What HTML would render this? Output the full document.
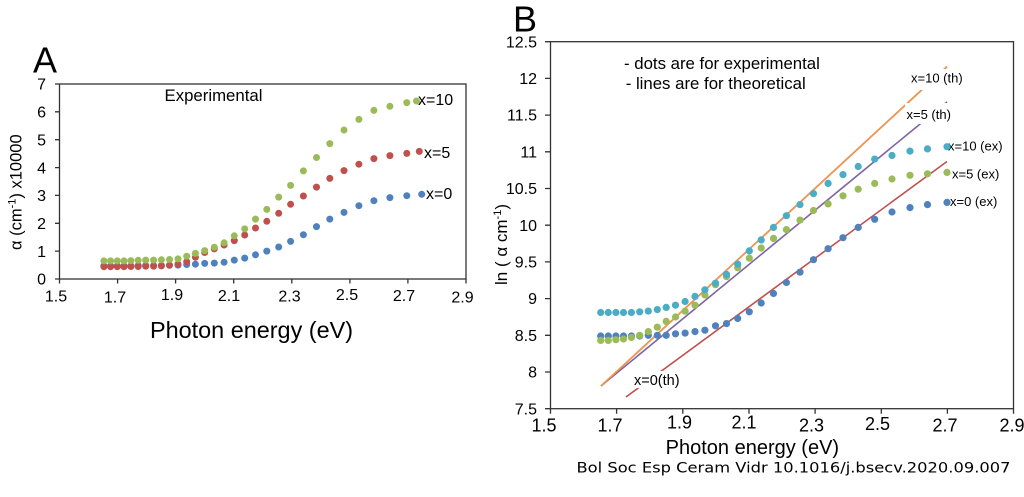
<!DOCTYPE html>
<html><head><meta charset="utf-8"><style>
html,body{margin:0;padding:0;background:#fff;}
svg{display:block;}
text{font-family:"Liberation Sans",Arial,sans-serif;fill:#000;}
</style></head><body>
<svg width="1024" height="497" viewBox="0 0 1024 497" xmlns="http://www.w3.org/2000/svg">
<rect width="1024" height="497" fill="#fff"/>

<!-- ============ PANEL A ============ -->
<text x="33" y="72.7" font-size="36">A</text>
<g stroke="#333" stroke-width="1.3" fill="none">
<rect x="59.5" y="84" width="406.5" height="195"/>
<path d="M59.5 279v4.5M117.6 279v4.5M175.6 279v4.5M233.7 279v4.5M291.8 279v4.5M349.9 279v4.5M407.9 279v4.5M466 279v4.5"/>
<path d="M55 279h4.5M55 251.1h4.5M55 223.3h4.5M55 195.4h4.5M55 167.6h4.5M55 139.7h4.5M55 111.8h4.5M55 84h4.5"/>
</g>
<g font-size="16" text-anchor="end">
<text x="46" y="284.7">0</text><text x="46" y="256.8">1</text><text x="46" y="229">2</text><text x="46" y="201.1">3</text>
<text x="46" y="173.3">4</text><text x="46" y="145.4">5</text><text x="46" y="117.5">6</text><text x="46" y="89.7">7</text>
</g>
<g font-size="16" text-anchor="middle">
<text x="56" y="301.5">1.5</text><text x="115" y="302.5">1.7</text><text x="172" y="300">1.9</text><text x="229" y="301">2.1</text>
<text x="289.5" y="301.5">2.3</text><text x="347" y="300">2.5</text><text x="404" y="301">2.7</text><text x="462.5" y="302.5">2.9</text>
</g>
<text x="150" y="338" font-size="23.4" textLength="203" lengthAdjust="spacingAndGlyphs">Photon energy (eV)</text>
<text transform="translate(21.5,250) rotate(-90)" font-size="16.5">α (cm<tspan font-size="11" dy="-6">-1</tspan><tspan dy="6">)  x10000</tspan></text>
<text x="164.5" y="101" font-size="16.8">Experimental</text>

<g fill="#4f81bd">
<circle cx="103.9" cy="265.9" r="3.5"/><circle cx="110.6" cy="265.9" r="3.5"/><circle cx="117.3" cy="265.9" r="3.5"/><circle cx="124" cy="265.9" r="3.5"/><circle cx="130.9" cy="265.9" r="3.5"/><circle cx="138.2" cy="265.6" r="3.5"/><circle cx="145.7" cy="265.6" r="3.5"/><circle cx="153.6" cy="265.6" r="3.5"/><circle cx="161.4" cy="265.6" r="3.5"/><circle cx="169.5" cy="265.3" r="3.5"/><circle cx="178" cy="265.1" r="3.5"/><circle cx="186.7" cy="264.5" r="3.5"/><circle cx="195.4" cy="264.2" r="3.5"/><circle cx="204.7" cy="263.4" r="3.5"/><circle cx="214.3" cy="263.1" r="3.5"/><circle cx="224.1" cy="262.3" r="3.5"/><circle cx="234.3" cy="260.1" r="3.5"/><circle cx="244.7" cy="258.1" r="3.5"/><circle cx="255.5" cy="254.8" r="3.5"/><circle cx="266.8" cy="251.1" r="3.5"/><circle cx="278.7" cy="247" r="3.5"/><circle cx="290.6" cy="241.4" r="3.5"/><circle cx="303.4" cy="234.7" r="3.5"/><circle cx="316.5" cy="226.6" r="3.5"/><circle cx="329.8" cy="219.1" r="3.5"/><circle cx="344" cy="212.4" r="3.5"/><circle cx="358.9" cy="205.7" r="3.5"/><circle cx="373.9" cy="200.7" r="3.5"/><circle cx="389.9" cy="197.6" r="3.5"/><circle cx="406.8" cy="195.7" r="3.5"/><circle cx="421.7" cy="194.3" r="3.5"/>
</g>
<g fill="#c0504d">
<circle cx="103.9" cy="266.7" r="3.5"/><circle cx="110.6" cy="266.7" r="3.5"/><circle cx="117.3" cy="266.7" r="3.5"/><circle cx="124" cy="266.7" r="3.5"/><circle cx="130.9" cy="266.5" r="3.5"/><circle cx="138.2" cy="266.5" r="3.5"/><circle cx="145.7" cy="266.2" r="3.5"/><circle cx="153.6" cy="266.2" r="3.5"/><circle cx="161.4" cy="265.9" r="3.5"/><circle cx="169.5" cy="265.3" r="3.5"/><circle cx="178" cy="264.2" r="3.5"/><circle cx="186.7" cy="261.7" r="3.5"/><circle cx="195.4" cy="257.3" r="3.5"/><circle cx="204.7" cy="252.5" r="3.5"/><circle cx="214.3" cy="248.9" r="3.5"/><circle cx="224.1" cy="245" r="3.5"/><circle cx="234.3" cy="240.6" r="3.5"/><circle cx="244.7" cy="235" r="3.5"/><circle cx="255.5" cy="228" r="3.5"/><circle cx="266.8" cy="221.3" r="3.5"/><circle cx="278.7" cy="213.3" r="3.5"/><circle cx="290.6" cy="204.3" r="3.5"/><circle cx="303.4" cy="196" r="3.5"/><circle cx="316.5" cy="187.1" r="3.5"/><circle cx="329.8" cy="178.4" r="3.5"/><circle cx="344" cy="170.6" r="3.5"/><circle cx="358.9" cy="164.2" r="3.5"/><circle cx="373.9" cy="158.6" r="3.5"/><circle cx="389.9" cy="155.6" r="3.5"/><circle cx="406.8" cy="153.4" r="3.5"/><circle cx="419.3" cy="151.4" r="3.5"/>
</g>
<g fill="#9bbb59">
<circle cx="103.9" cy="260.9" r="3.5"/><circle cx="110.6" cy="260.9" r="3.5"/><circle cx="117.3" cy="260.9" r="3.5"/><circle cx="124" cy="260.9" r="3.5"/><circle cx="130.9" cy="260.6" r="3.5"/><circle cx="138.2" cy="260.3" r="3.5"/><circle cx="145.7" cy="260.1" r="3.5"/><circle cx="153.6" cy="260.1" r="3.5"/><circle cx="161.4" cy="259.8" r="3.5"/><circle cx="169.5" cy="259.5" r="3.5"/><circle cx="178" cy="258.9" r="3.5"/><circle cx="186.7" cy="256.2" r="3.5"/><circle cx="195.4" cy="253.4" r="3.5"/><circle cx="204.7" cy="250.6" r="3.5"/><circle cx="214.3" cy="247.2" r="3.5"/><circle cx="224.1" cy="242.8" r="3.5"/><circle cx="234.3" cy="235.8" r="3.5"/><circle cx="244.7" cy="228.9" r="3.5"/><circle cx="255.5" cy="219.1" r="3.5"/><circle cx="266.8" cy="209.4" r="3.5"/><circle cx="278.7" cy="197.1" r="3.5"/><circle cx="290.6" cy="185.4" r="3.5"/><circle cx="303.4" cy="170.9" r="3.5"/><circle cx="316.5" cy="157.5" r="3.5"/><circle cx="329.8" cy="143.6" r="3.5"/><circle cx="344" cy="130" r="3.5"/><circle cx="358.9" cy="119.4" r="3.5"/><circle cx="373.9" cy="110.4" r="3.5"/><circle cx="389.9" cy="106.3" r="3.5"/><circle cx="406.8" cy="102.6" r="3.5"/><circle cx="416.5" cy="101" r="3.5"/>
</g>
<g font-size="16">
<text x="418" y="105">x=10</text><text x="424" y="158">x=5</text><text x="426" y="199">x=0</text>
</g>

<!-- ============ PANEL B ============ -->
<text x="513" y="31.7" font-size="36">B</text>
<g stroke="#333" stroke-width="1.3" fill="none">
<rect x="550.5" y="41.7" width="463" height="367"/>
<path d="M550.5 408.7v5M616.6 408.7v5M682.8 408.7v5M749 408.7v5M815.1 408.7v5M881.3 408.7v5M947.4 408.7v5M1013.5 408.7v5"/>
<path d="M545 408.7h5.5M545 372h5.5M545 335.3h5.5M545 298.6h5.5M545 261.9h5.5M545 225.2h5.5M545 188.5h5.5M545 151.8h5.5M545 115.1h5.5M545 78.4h5.5M545 41.7h5.5"/>
</g>
<g font-size="16" text-anchor="end">
<text x="537" y="414.3">7.5</text><text x="537" y="377.6">8</text><text x="537" y="340.9">8.5</text><text x="537" y="304.2">9</text>
<text x="537" y="267.5">9.5</text><text x="537" y="230.8">10</text><text x="537" y="194.1">10.5</text><text x="537" y="157.4">11</text>
<text x="537" y="120.7">11.5</text><text x="537" y="84">12</text><text x="537" y="47.3">12.5</text>
</g>
<g font-size="18" text-anchor="middle">
<text x="544" y="431.5">1.5</text><text x="610" y="431.5">1.7</text><text x="679.5" y="428.5">1.9</text><text x="744" y="428.5">2.1</text>
<text x="811.5" y="431.5">2.3</text><text x="877.5" y="430">2.5</text><text x="945" y="431.5">2.7</text><text x="1012" y="431.5">2.9</text>
</g>
<text x="665.6" y="454" font-size="20" textLength="173.5" lengthAdjust="spacingAndGlyphs">Photon energy (eV)</text>
<text transform="translate(507,285) rotate(-90)" font-size="17">ln ( α cm<tspan font-size="11" dy="-6">-1</tspan><tspan dy="6">)</tspan></text>
<text x="624" y="69" font-size="16.8">- dots are for experimental</text>
<text x="625.7" y="89" font-size="16.8">- lines are for theoretical</text>

<g fill="none" stroke-width="1.6">
<line x1="601" y1="386" x2="947" y2="66.6" stroke="#8064a2"/>
<line x1="601" y1="386" x2="947" y2="101.9" stroke="#8064a2"/>
<line x1="601" y1="386" x2="947" y2="66.6" stroke="#f79646"/>
<line x1="626" y1="397" x2="947" y2="161.5" stroke="#c0504d"/>
</g>
<g fill="#fff">
<rect x="908" y="69" width="58" height="21"/>
<rect x="905" y="103" width="50" height="21"/>
<rect x="632" y="371" width="58" height="17"/>
</g>
<g font-size="13">
<text x="911" y="82.5">x=10 (th)</text>
<text x="906.5" y="119">x=5 (th)</text>
<text x="948" y="150.5">x=10 (ex)</text>
<text x="952" y="178.5">x=5 (ex)</text>
<text x="950" y="206">x=0 (ex)</text>
</g>
<text x="634" y="385" font-size="14.5">x=0(th)</text>

<g fill="#4f81bd">
<circle cx="600.7" cy="336" r="3.6"/><circle cx="608.3" cy="336" r="3.6"/><circle cx="615.9" cy="336" r="3.6"/><circle cx="623.5" cy="336" r="3.6"/><circle cx="631.4" cy="336" r="3.6"/><circle cx="639.7" cy="336" r="3.6"/><circle cx="648.3" cy="335.3" r="3.6"/><circle cx="657.3" cy="335.3" r="3.6"/><circle cx="666.2" cy="335.3" r="3.6"/><circle cx="675.5" cy="333.8" r="3.6"/><circle cx="685.1" cy="333.1" r="3.6"/><circle cx="695" cy="331.6" r="3.6"/><circle cx="704.9" cy="330.2" r="3.6"/><circle cx="715.5" cy="325.8" r="3.6"/><circle cx="726.5" cy="323.6" r="3.6"/><circle cx="737.7" cy="318.4" r="3.6"/><circle cx="749.3" cy="311.8" r="3.6"/><circle cx="761.2" cy="303" r="3.6"/><circle cx="773.5" cy="293.5" r="3.6"/><circle cx="786.4" cy="282.5" r="3.6"/><circle cx="800" cy="272.2" r="3.6"/><circle cx="813.5" cy="259.7" r="3.6"/><circle cx="828.1" cy="248.7" r="3.6"/><circle cx="843" cy="237.7" r="3.6"/><circle cx="858.2" cy="227.4" r="3.6"/><circle cx="874.7" cy="219.3" r="3.6"/><circle cx="892" cy="212" r="3.6"/><circle cx="910" cy="207.6" r="3.6"/><circle cx="927.5" cy="204.6" r="3.6"/><circle cx="947" cy="202.4" r="3.6"/>
</g>
<g fill="#9bbb59">
<circle cx="600.7" cy="340.4" r="3.6"/><circle cx="608.3" cy="340.4" r="3.6"/><circle cx="615.9" cy="339.7" r="3.6"/><circle cx="623.5" cy="339" r="3.6"/><circle cx="631.4" cy="337.5" r="3.6"/><circle cx="639.7" cy="335.3" r="3.6"/><circle cx="648.3" cy="331.6" r="3.6"/><circle cx="657.3" cy="327.2" r="3.6"/><circle cx="666.2" cy="321.4" r="3.6"/><circle cx="675.5" cy="317" r="3.6"/><circle cx="685.1" cy="311.1" r="3.6"/><circle cx="695" cy="305.2" r="3.6"/><circle cx="704.9" cy="294.9" r="3.6"/><circle cx="715.5" cy="284.7" r="3.6"/><circle cx="726.5" cy="276.6" r="3.6"/><circle cx="737.7" cy="267.8" r="3.6"/><circle cx="749.3" cy="258.2" r="3.6"/><circle cx="761.2" cy="248" r="3.6"/><circle cx="773.5" cy="238.4" r="3.6"/><circle cx="786.4" cy="229.6" r="3.6"/><circle cx="800" cy="220.1" r="3.6"/><circle cx="813.5" cy="210.5" r="3.6"/><circle cx="828.1" cy="203.9" r="3.6"/><circle cx="843" cy="195.8" r="3.6"/><circle cx="858.2" cy="189.2" r="3.6"/><circle cx="874.7" cy="183.4" r="3.6"/><circle cx="892" cy="179" r="3.6"/><circle cx="910" cy="175.3" r="3.6"/><circle cx="927.5" cy="173.8" r="3.6"/><circle cx="947" cy="172.4" r="3.6"/>
</g>
<g fill="#4bacc6">
<circle cx="600.7" cy="312.5" r="3.6"/><circle cx="608.3" cy="312.5" r="3.6"/><circle cx="615.9" cy="312.5" r="3.6"/><circle cx="623.5" cy="312.5" r="3.6"/><circle cx="631.4" cy="312.5" r="3.6"/><circle cx="639.7" cy="311.8" r="3.6"/><circle cx="648.3" cy="311.1" r="3.6"/><circle cx="657.3" cy="309.6" r="3.6"/><circle cx="666.2" cy="307.4" r="3.6"/><circle cx="675.5" cy="305.2" r="3.6"/><circle cx="685.1" cy="301.5" r="3.6"/><circle cx="695" cy="296.4" r="3.6"/><circle cx="704.9" cy="289.8" r="3.6"/><circle cx="715.5" cy="283.2" r="3.6"/><circle cx="726.5" cy="274.4" r="3.6"/><circle cx="737.7" cy="264.1" r="3.6"/><circle cx="749.3" cy="250.9" r="3.6"/><circle cx="761.2" cy="239.9" r="3.6"/><circle cx="773.5" cy="227.4" r="3.6"/><circle cx="786.4" cy="215.7" r="3.6"/><circle cx="800" cy="204.6" r="3.6"/><circle cx="813.5" cy="193.6" r="3.6"/><circle cx="828.1" cy="183.4" r="3.6"/><circle cx="843" cy="174.6" r="3.6"/><circle cx="858.2" cy="166.5" r="3.6"/><circle cx="874.7" cy="159.1" r="3.6"/><circle cx="892" cy="155.5" r="3.6"/><circle cx="910" cy="151.1" r="3.6"/><circle cx="927.5" cy="148.9" r="3.6"/><circle cx="947" cy="146.7" r="3.6"/>
</g>

<text x="576.5" y="472.3" font-size="13.8" textLength="434" lengthAdjust="spacingAndGlyphs" style="font-family:'DejaVu Sans',sans-serif">Bol Soc Esp Ceram Vidr 10.1016/j.bsecv.2020.09.007</text>
</svg>
</body></html>
